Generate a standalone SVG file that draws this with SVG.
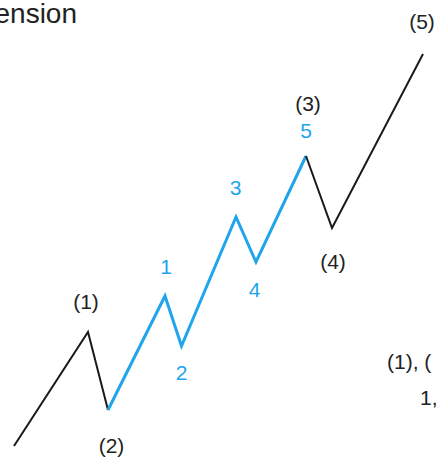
<svg xmlns="http://www.w3.org/2000/svg" width="439" height="460" viewBox="0 0 439 460">
<style>
.k{fill:none;stroke:#1a1a1a;stroke-width:2;stroke-linejoin:miter;stroke-linecap:butt}
.b{fill:none;stroke:#1ea5ec;stroke-width:3;stroke-linejoin:miter}
text{font-family:"Liberation Sans",Arial,sans-serif;font-size:21px;text-anchor:middle}
.tk{fill:#222}
.tb{fill:#1ea5ec}
</style>
<rect width="439" height="460" fill="#fff"/>
<g id="title"><text class="tk" x="77" y="23" style="font-size:28px;text-anchor:end">ension</text></g>
<g id="connectors">
<polyline class="k" points="14,446 88,332 108,410"/>
<polyline class="b" points="108,410 165,296 181.5,346 236,217 256,262 306,156"/>
<polyline class="k" points="306,156 332,228 423,54"/>
</g>
<g id="n1"><text class="tk" x="86" y="309">(1)</text></g>
<g id="n2"><text class="tk" x="111.5" y="452.5">(2)</text></g>
<g id="n3"><text class="tk" x="308" y="111">(3)</text></g>
<g id="n4"><text class="tk" x="333" y="268.5">(4)</text></g>
<g id="n5"><text class="tk" x="422" y="29">(5)</text></g>
<g id="s1"><text class="tb" x="166" y="274">1</text></g>
<g id="s2"><text class="tb" x="181.5" y="380">2</text></g>
<g id="s3"><text class="tb" x="235.5" y="195">3</text></g>
<g id="s4"><text class="tb" x="254.5" y="297">4</text></g>
<g id="s5"><text class="tb" x="306" y="138">5</text></g>
<g id="note"><text class="tk" x="387" y="369" style="text-anchor:start">(1), (</text><text class="tk" x="420" y="405" style="text-anchor:start">1,</text></g>
</svg>
